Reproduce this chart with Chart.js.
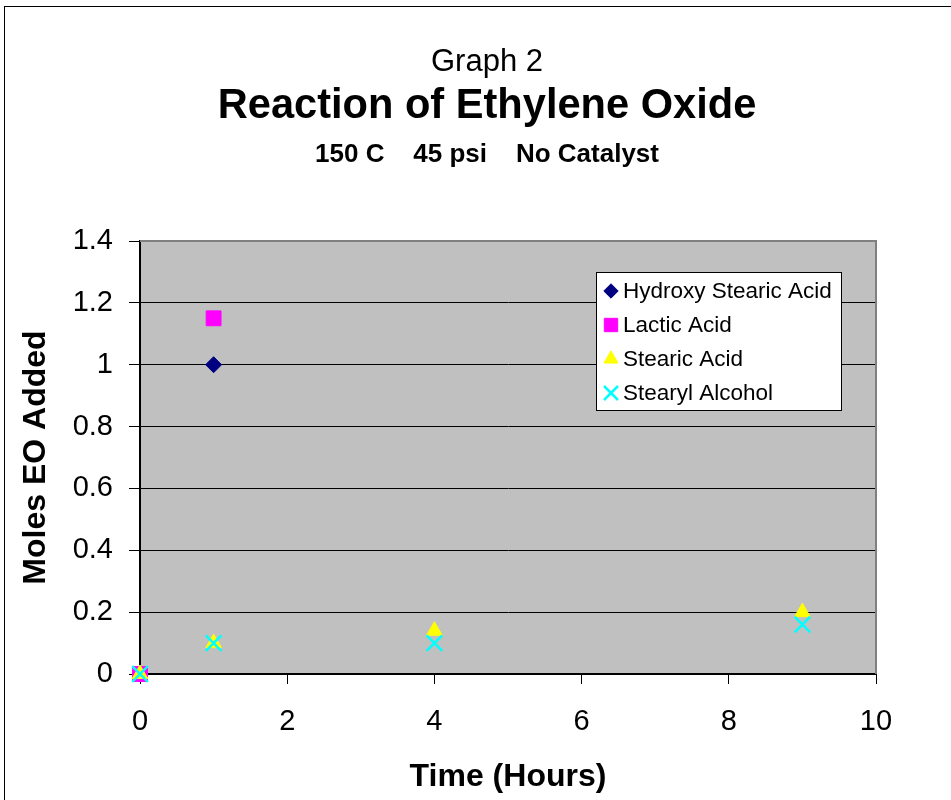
<!DOCTYPE html>
<html>
<head>
<meta charset="utf-8">
<script src="https://cdn.jsdelivr.net/npm/chart.js@4.4.1/dist/chart.umd.min.js"></script>
<style>
  html, body { margin: 0; padding: 0; background: #fff; }
  #wrap { width: 951px; height: 800px; position: relative; }
</style>
</head>
<body>
<div id="wrap"><canvas id="myChart" width="951" height="800"></canvas></div>
<script>
// data
const seriesNames = ["Hydroxy Stearic Acid", "Lactic Acid", "Stearic Acid", "Stearyl Alcohol"];
const hydroxyHours = [0, 1];
const hydroxyMoles = [0, 1.0];
const lacticHours = [0, 1];
const lacticMoles = [0, 1.15];
const stearicHours = [0, 1, 4, 9];
const stearicMoles = [0, 0.1, 0.14, 0.2];
const stearylHours = [0, 1, 4, 9];
const stearylMoles = [0, 0.1, 0.1, 0.16];
const xTicks = [0, 2, 4, 6, 8, 10];
const yTicks = [0, 0.2, 0.4, 0.6, 0.8, 1, 1.2, 1.4];

const FONT = "'Liberation Sans', Arial, sans-serif";

function toPoints(xs, ys) {
  return xs.map((x, i) => ({ x: x, y: ys[i] }));
}

// marker looks, same order as seriesNames
const markers = [
  { style: "rectRot", color: "#000080", radius: 8, width: 1 },
  { style: "rect", color: "#ff00ff", radius: 10.5, width: 1 },
  { style: "triangle", color: "#ffff00", radius: 9, width: 1 },
  { style: "crossRot", color: "#00ffff", radius: 11, width: 2.5 },
];

const seriesData = [
  toPoints(hydroxyHours, hydroxyMoles),
  toPoints(lacticHours, lacticMoles),
  toPoints(stearicHours, stearicMoles),
  toPoints(stearylHours, stearylMoles),
];

// gray plot area, outer frame, titles and legend box
const decorPlugin = {
  id: "decor",
  beforeDraw(chart) {
    const { ctx, chartArea: a } = chart;
    ctx.save();
    ctx.fillStyle = "#fff";
    ctx.fillRect(0, 0, chart.width, chart.height);
    ctx.strokeStyle = "#000";
    ctx.lineWidth = 1;
    ctx.strokeRect(4.5, 6.5, chart.width + 20, chart.height + 20);
    ctx.fillStyle = "#c0c0c0";
    ctx.fillRect(a.left, a.top, a.right - a.left, a.bottom - a.top);

    ctx.fillStyle = "#000";
    ctx.textAlign = "center";
    ctx.textBaseline = "alphabetic";
    ctx.font = "31px " + FONT;
    ctx.fillText("Graph 2", 487, 71);
    ctx.font = "bold 41.6px " + FONT;
    ctx.fillText("Reaction of Ethylene Oxide", 487, 118);
    ctx.font = "bold 26px " + FONT;
    ctx.fillText("150 C    45 psi    No Catalyst", 487, 162);
    ctx.restore();
  },
  beforeDatasetsDraw(chart) {
    const { ctx, chartArea: a } = chart;
    ctx.save();
    ctx.strokeStyle = "#808080";
    ctx.lineWidth = 2;
    ctx.beginPath();
    ctx.moveTo(a.left, a.top);
    ctx.lineTo(a.right, a.top);
    ctx.lineTo(a.right, a.bottom);
    ctx.stroke();
    ctx.restore();
  },
  afterDatasetsDraw(chart) {
    const { ctx, chartArea: a } = chart;
    const boxL = a.right - 280, boxT = a.top + 31, boxW = 245, boxH = 138;
    ctx.save();
    ctx.fillStyle = "#fff";
    ctx.fillRect(boxL, boxT, boxW, boxH);
    ctx.strokeStyle = "#000";
    ctx.lineWidth = 1;
    ctx.strokeRect(boxL + 0.5, boxT + 0.5, boxW, boxH);
    ctx.font = "22.5px " + FONT;
    ctx.textAlign = "left";
    ctx.textBaseline = "middle";
    seriesNames.forEach((name, i) => {
      const cy = boxT + 19 + i * 34;
      const m = markers[i];
      ctx.fillStyle = m.color;
      ctx.strokeStyle = m.color;
      ctx.lineWidth = m.width;
      Chart.helpers.drawPoint(ctx, {
        pointStyle: m.style,
        radius: m.radius * 0.9,
        rotation: 0,
        borderWidth: m.width,
      }, boxL + 15, cy);
      ctx.fillStyle = "#000";
      ctx.fillText(name, boxL + 27, cy + 1);
    });
    ctx.restore();
  },
};

const ctx = document.getElementById("myChart").getContext("2d");

new Chart(ctx, {
  type: "scatter",
  data: {
    datasets: seriesNames.map((name, i) => ({
      label: name,
      data: seriesData[i],
      pointStyle: markers[i].style,
      pointRadius: markers[i].radius,
      pointHoverRadius: markers[i].radius,
      backgroundColor: markers[i].color,
      borderColor: markers[i].color,
      borderWidth: markers[i].width,
      showLine: false,
      clip: false,
      order: seriesNames.length - i,
    })),
  },
  options: {
    responsive: false,
    animation: false,
    events: [],
    layout: { padding: { top: 241, right: 75, left: 0, bottom: 0 } },
    plugins: {
      legend: { display: false },
      title: { display: false },
      tooltip: { enabled: false },
    },
    scales: {
      x: {
        type: "linear",
        min: 0,
        max: 10,
        afterFit(scale) { scale.height = 126; },
        afterBuildTicks(scale) { scale.ticks = xTicks.map(v => ({ value: v })); },
        ticks: {
          color: "#000",
          font: { family: FONT, size: 29 },
          padding: 21,
          callback: v => String(v),
        },
        grid: { drawOnChartArea: false, color: "#000", tickLength: 10, tickWidth: 1 },
        border: { color: "#000", width: 2 },
        title: {
          display: true,
          text: "Time (Hours)",
          color: "#000",
          font: { family: FONT, size: 32, weight: "bold" },
          padding: { top: 4, bottom: 4 },
        },
      },
      y: {
        min: 0,
        max: 1.4,
        afterFit(scale) { scale.width = 140; },
        afterBuildTicks(scale) { scale.ticks = yTicks.map(v => ({ value: v })); },
        ticks: {
          color: "#000",
          font: { family: FONT, size: 29 },
          padding: 16,
          callback: v => String(v),
        },
        grid: { color: "#000", lineWidth: 1, tickLength: 11 },
        border: { color: "#000", width: 2 },
        title: {
          display: true,
          text: "Moles EO Added",
          color: "#000",
          font: { family: FONT, size: 32, weight: "bold" },
          padding: { top: 17, bottom: 0 },
        },
      },
    },
  },
  plugins: [decorPlugin],
});
</script>
</body>
</html>
